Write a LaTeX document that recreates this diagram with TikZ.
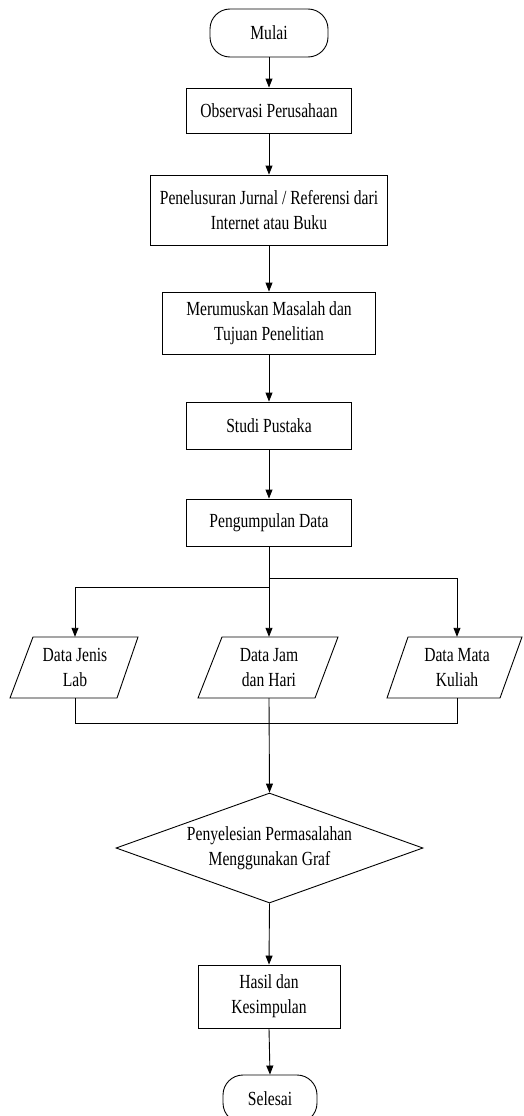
\documentclass[tikz,border=0pt]{standalone}
\usepackage{fontspec}
\setmainfont{Liberation Serif}[FakeStretch=0.78]
\usetikzlibrary{shapes.geometric,arrows.meta}
\begin{document}
\begin{tikzpicture}[x=1pt,y=1pt,
  every node/.style={font=\fontsize{20}{25}\selectfont, align=center, inner sep=0pt},
  box/.style={draw, line width=0.9pt, rectangle},
  term/.style={draw, line width=0.9pt, rectangle, rounded corners=20pt,
               minimum height=48pt},
  datatext/.style={rectangle, minimum height=61pt, minimum width=70pt},
  decide/.style={draw, line width=0.9pt, diamond, aspect=2.8,
                 minimum width=307pt, minimum height=110pt},
  line/.style={draw, line width=0.9pt},
  arr/.style={line, -{Triangle[length=9pt,width=7pt]}}]
\useasboundingbox (0,0) rectangle (524,-1116);
\clip (0,0) rectangle (524,-1116);

% main column
\node[term, minimum width=118pt] (mulai) at (269,-33) {Mulai};
\node[box, minimum width=165pt, minimum height=45pt] (obs) at (269,-110.5) {Observasi Perusahaan};
\node[box, minimum width=237pt, minimum height=70pt] (pen) at (269,-210)
  {Penelusuran Jurnal / Referensi dari\\Internet atau Buku};
\node[box, minimum width=213pt, minimum height=62pt] (mer) at (269,-323)
  {Merumuskan Masalah dan\\Tujuan Penelitian};
\node[box, minimum width=165pt, minimum height=47pt] (studi) at (269,-425.5) {Studi Pustaka};
\node[box, minimum width=165pt, minimum height=47pt] (peng) at (269,-522.5) {Pengumpulan Data};

% data inputs (parallelograms)
\node[datatext] (lab) at (75,-667.5) {Data Jenis\\Lab};
\node[datatext] (jam) at (269,-667.5) {Data Jam\\dan Hari};
\node[datatext] (mk)  at (457,-667.5) {Data Mata\\Kuliah};
\draw[line] (33,-637) -- (138,-637) -- (117,-698) -- (10,-698) -- cycle;
\draw[line] (222,-637) -- (338,-637) -- (315,-698) -- (198,-698) -- cycle;
\draw[line] (408,-637) -- (522,-637) -- (500,-698) -- (387,-698) -- cycle;

\node[decide] (graf) at (269.5,-848) {Penyelesian Permasalahan\\Menggunakan Graf};
\node[box, minimum width=142pt, minimum height=63pt] (hasil) at (269,-996.5)
  {Hasil dan\\Kesimpulan};
\node[term, minimum width=94pt] (selesai) at (270,-1099) {Selesai};

% connectors
\draw[arr] (mulai) -- (obs);
\draw[arr] (obs) -- (pen);
\draw[arr] (pen) -- (mer);
\draw[arr] (mer) -- (studi);
\draw[arr] (studi) -- (peng);

\coordinate (splitR) at (269,-578);
\coordinate (splitL) at (269,-587);
\draw[arr] (peng.south) -- (jam.north);
\draw[arr] (splitR) -| (mk.north);
\draw[arr] (splitL) -| (lab.north);

\draw[line] (lab.south) -- ++(0,-25) -| (mk.south);
\draw[arr] (jam.south) -- (graf.north);
\draw[arr] (graf.south) -- (hasil.north);
\draw[arr] (hasil.south) -- (selesai.north);
\end{tikzpicture}
\end{document}
